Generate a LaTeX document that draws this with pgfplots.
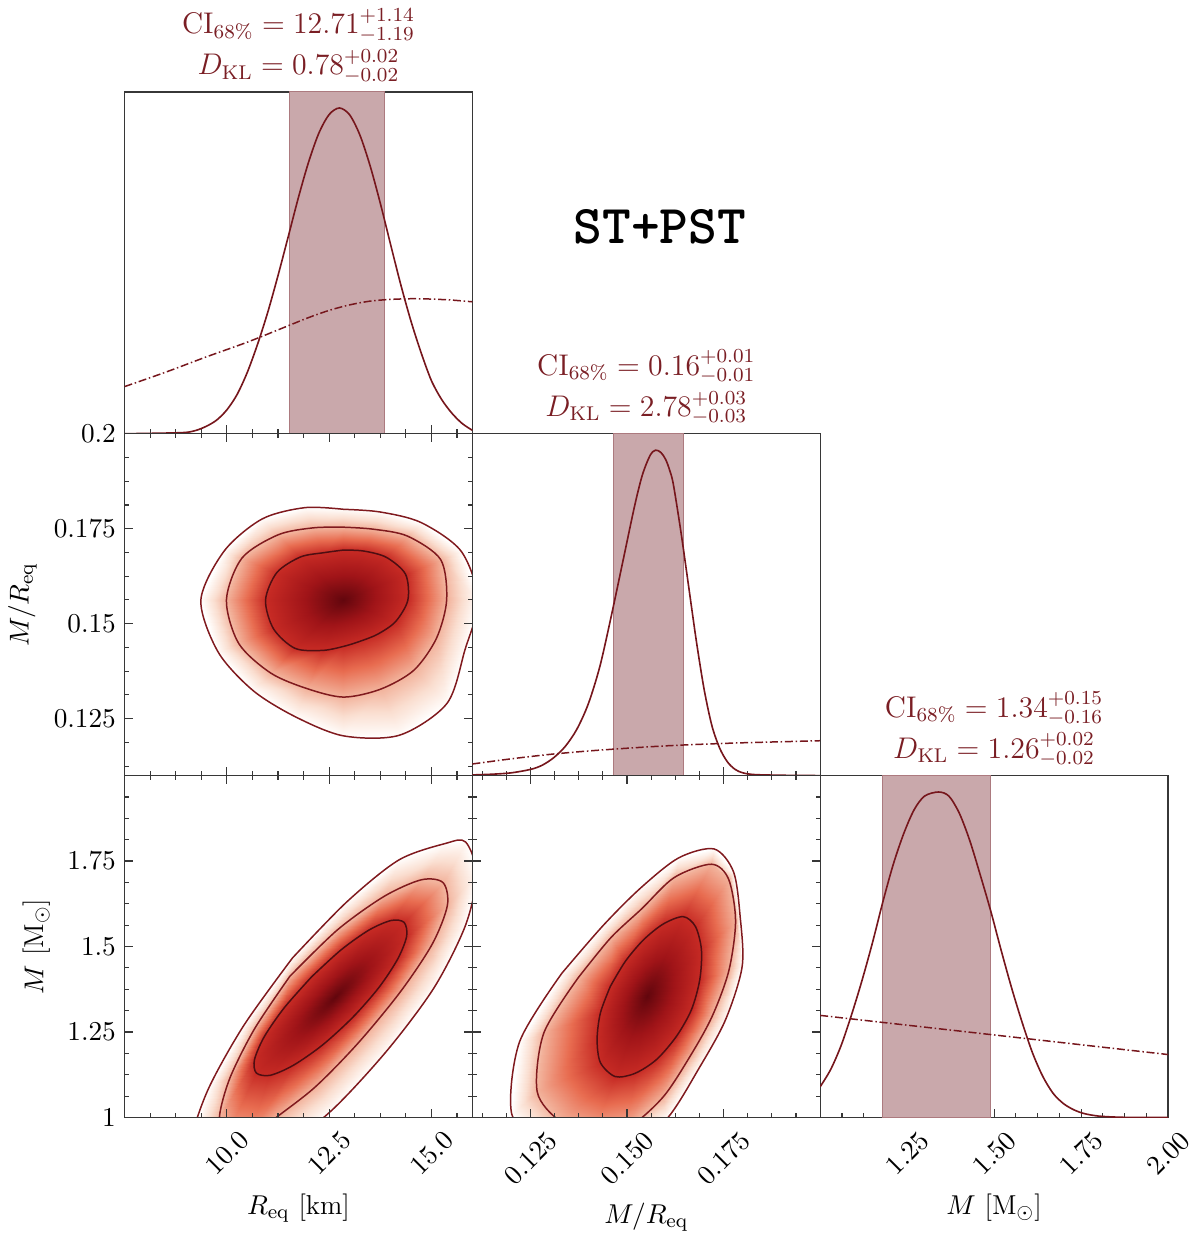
\documentclass[border=0pt]{standalone}
\usepackage{graphicx}
\usepackage{pgfplots}
\usepackage{pgfplotstable}
\pgfplotsset{compat=1.18}
\usepgfplotslibrary{groupplots}

\definecolor{dcol}{RGB}{118,22,28}
\definecolor{bandfill}{RGB}{201,168,171}
\definecolor{bandedge}{RGB}{172,122,127}
\definecolor{ctr}{RGB}{128,26,30}
\definecolor{ctrin}{RGB}{78,14,18}
\definecolor{titlecol}{RGB}{122,30,36}
\definecolor{axcol}{RGB}{55,55,55}

\pgfplotsset{colormap={dens}{rgb255=(255,252,250) rgb255=(250,222,208) rgb255=(242,178,155) rgb255=(232,108,80) rgb255=(198,42,36) rgb255=(160,20,24) rgb255=(98,6,13)}}

% contour rings: row 0 = peak, then inner / middle / outer ring (17 rows each, closed)
\pgfplotstableread{
x y v
12.850 0.15622 3
12.850 0.16938 2
12.372 0.16869 2
11.796 0.16755 2
11.221 0.16345 2
10.945 0.15622 2
11.140 0.14863 2
11.667 0.14349 2
12.340 0.14296 2
12.850 0.14401 2
13.264 0.14540 2
13.685 0.14723 2
14.123 0.15055 2
14.423 0.15622 2
14.366 0.16302 2
13.896 0.16747 2
13.345 0.16912 2
12.850 0.16938 2
12.850 0.17540 1
12.113 0.17523 1
11.253 0.17340 1
10.370 0.16729 1
9.989 0.15622 1
10.289 0.14479 1
11.067 0.13703 1
11.950 0.13293 1
12.850 0.13067 1
13.758 0.13276 1
14.569 0.13773 1
15.120 0.14610 1
15.371 0.15622 1
15.225 0.16686 1
14.415 0.17305 1
13.572 0.17488 1
12.850 0.17540 1
12.850 0.18011 0
11.910 0.18055 0
10.864 0.17758 0
9.940 0.16921 0
9.364 0.15622 0
9.786 0.14253 0
10.637 0.13241 0
11.667 0.12552 0
12.850 0.12046 0
14.220 0.12064 0
15.379 0.12901 0
15.817 0.14305 0
16.141 0.15622 0
15.728 0.16904 0
14.747 0.17662 0
13.742 0.17941 0
12.850 0.18011 0
}\tabRQ

\pgfplotstableread{
x y v
12.631 1.3515 3
12.072 1.4115 2
11.403 1.3209 2
10.914 1.2362 2
10.674 1.1686 2
10.720 1.1299 2
11.058 1.1232 2
11.625 1.1526 2
12.335 1.2117 2
13.079 1.2932 2
13.718 1.3806 2
14.178 1.4642 2
14.394 1.5306 2
14.329 1.5708 2
14.010 1.5760 2
13.468 1.5478 2
12.787 1.4898 2
12.072 1.4115 2
11.539 1.4129 1
10.683 1.2606 1
10.080 1.1171 1
9.820 1.0041 1
9.944 0.9394 1
10.460 0.9292 1
11.133 0.9933 1
12.150 1.0882 1
13.205 1.2172 1
14.246 1.3684 1
15.024 1.5082 1
15.389 1.6203 1
15.282 1.6870 1
14.750 1.6951 1
13.845 1.6468 1
12.707 1.5492 1
11.539 1.4129 1
11.603 1.4665 0
10.418 1.2700 0
9.560 1.0868 0
9.154 0.9435 0
9.273 0.8637 0
10.041 0.8395 0
11.192 0.8952 0
12.551 1.0195 0
13.913 1.1954 0
15.066 1.3800 0
15.829 1.5611 0
16.104 1.7102 0
15.834 1.8058 0
15.331 1.8011 0
14.198 1.7528 0
12.933 1.6308 0
11.603 1.4665 0
}\tabRM

\pgfplotstableread{
x y v
0.15513 1.3544 3
0.14570 1.38352 2
0.14313 1.30587 2
0.14227 1.22821 2
0.14313 1.16026 2
0.14698 1.11949 2
0.15213 1.12920 2
0.15770 1.16997 2
0.16284 1.23792 2
0.16670 1.31557 2
0.16884 1.40293 2
0.16927 1.49030 2
0.16773 1.55824 2
0.16456 1.58737 2
0.15941 1.56601 2
0.15427 1.51942 2
0.14956 1.45632 2
0.14570 1.38352 2
0.13739 1.40876 1
0.12847 1.24665 1
0.12676 1.07581 1
0.13259 0.98942 1
0.14099 0.95156 1
0.14998 0.96807 1
0.15924 1.05834 1
0.16653 1.18259 1
0.17210 1.29713 1
0.17638 1.43012 1
0.17810 1.57475 1
0.17630 1.69705 1
0.17184 1.74073 1
0.16224 1.70191 1
0.15384 1.61066 1
0.14578 1.52524 1
0.13739 1.40876 1
0.13319 1.42235 0
0.12221 1.22142 0
0.12016 1.01078 0
0.12813 0.92245 0
0.13970 0.90303 0
0.14956 0.91274 0
0.16018 0.99428 0
0.16884 1.14765 0
0.17553 1.28645 0
0.17981 1.44176 0
0.17930 1.58639 0
0.17758 1.71841 0
0.17253 1.78539 0
0.16336 1.75918 0
0.15350 1.67084 0
0.14381 1.56116 0
0.13319 1.42235 0
}\tabQM

\pgfplotsset{
  conn/.style={table/row sep=\\, patch table={
    0 1 2\\ 0 2 3\\ 0 3 4\\ 0 4 5\\ 0 5 6\\ 0 6 7\\ 0 7 8\\ 0 8 9\\
    0 9 10\\ 0 10 11\\ 0 11 12\\ 0 12 13\\ 0 13 14\\ 0 14 15\\ 0 15 16\\ 0 16 17\\
    1 2 18\\ 2 19 18\\ 2 3 19\\ 3 20 19\\ 3 4 20\\ 4 21 20\\ 4 5 21\\ 5 22 21\\
    5 6 22\\ 6 23 22\\ 6 7 23\\ 7 24 23\\ 7 8 24\\ 8 25 24\\ 8 9 25\\ 9 26 25\\
    9 10 26\\ 10 27 26\\ 10 11 27\\ 11 28 27\\ 11 12 28\\ 12 29 28\\ 12 13 29\\ 13 30 29\\
    13 14 30\\ 14 31 30\\ 14 15 31\\ 15 32 31\\ 15 16 32\\ 16 33 32\\ 16 17 33\\ 17 34 33\\
    18 19 35\\ 19 36 35\\ 19 20 36\\ 20 37 36\\ 20 21 37\\ 21 38 37\\ 21 22 38\\ 22 39 38\\
    22 23 39\\ 23 40 39\\ 23 24 40\\ 24 41 40\\ 24 25 41\\ 25 42 41\\ 25 26 42\\ 26 43 42\\
    26 27 43\\ 27 44 43\\ 27 28 44\\ 28 45 44\\ 28 29 45\\ 29 46 45\\ 29 30 46\\ 30 47 46\\
    30 31 47\\ 31 48 47\\ 31 32 48\\ 32 49 48\\ 32 33 49\\ 33 50 49\\ 33 34 50\\ 34 51 50\\
  }},
  filled/.style={patch, shader=interp, point meta=explicit, conn},
  cin/.style={ctrin, line width=0.6pt, smooth, skip coords between index={0}{1}, skip coords between index={18}{52}},
  cmid/.style={ctr, line width=0.6pt, smooth, skip coords between index={0}{18}, skip coords between index={35}{52}},
  cout/.style={ctr, line width=0.6pt, smooth, skip coords between index={0}{35}},
  base/.style={scale only axis, width=139.8pt, height=137.4pt,
    tick align=inside, major tick length=3.4pt, minor tick length=1.8pt,
    axis line style={axcol, line width=0.5pt},
    every tick/.style={axcol, line width=0.45pt},
    tick label style={font=\fontsize{11}{13}\selectfont},
    label style={font=\fontsize{11}{13}\selectfont},
    xticklabel shift=1.5pt,
    colormap name=dens, point meta min=0, point meta max=3},
  xR/.style={xmin=7.5, xmax=16, xtick={10,12.5,15},
    minor xtick={8.125,8.75,9.375,10.625,11.25,11.875,13.125,13.75,14.375,15.625}},
  xQ/.style={xmin=0.11, xmax=0.2, xtick={0.125,0.15,0.175},
    minor xtick={0.1125,0.11875,0.13125,0.1375,0.14375,0.15625,0.1625,0.16875,0.18125,0.1875,0.19375}},
  xM/.style={xmin=1, xmax=2, xtick={1.25,1.5,1.75,2},
    minor xtick={1.0625,1.125,1.1875,1.3125,1.375,1.4375,1.5625,1.625,1.6875,1.8125,1.875,1.9375}},
  yQ/.style={ymin=0.11, ymax=0.2, ytick={0.125,0.15,0.175,0.2},
    minor ytick={0.1125,0.11875,0.13125,0.1375,0.14375,0.15625,0.1625,0.16875,0.18125,0.1875,0.19375}},
  yM/.style={ymin=1, ymax=2, ytick={1,1.25,1.5,1.75},
    minor ytick={1.0625,1.125,1.1875,1.3125,1.375,1.4375,1.5625,1.625,1.6875,1.8125,1.875,1.9375}},
  diag/.style={ymin=0, ymax=1, ytick=\empty, xtick pos=left, xticklabels={},
    title style={align=center, text=titlecol, font=\fontsize{11.5}{16.5}\selectfont, yshift=-6pt}},
  band/.style={fill=bandfill, draw=bandedge, line width=0.4pt},
  post/.style={dcol, line width=0.65pt, smooth},
  prior/.style={dcol, line width=0.6pt, smooth, dash pattern=on 3.2pt off 1.1pt on 0.6pt off 1.1pt},
}

\begin{document}
\begin{tikzpicture}
\begin{groupplot}[group style={group size=3 by 3, horizontal sep=0pt, vertical sep=0pt}, base]

% ---- row 1: R_eq marginal
\nextgroupplot[xR, diag, clip mode=individual,
  title={$\mathrm{CI}_{68\%}=12.71^{+1.14}_{-1.19}$\\$D_{\mathrm{KL}}=0.78^{+0.02}_{-0.02}$}]
\addplot[band] coordinates {(11.52,0) (11.52,1) (13.85,1) (13.85,0) (11.52,0)};
\addplot[prior] table {
7.5 0.138
8.5 0.180
9.5 0.225
10.5 0.268
11.5 0.316
12.0 0.340
12.5 0.361
13.0 0.377
13.5 0.388
14.0 0.393
14.5 0.395
15.0 0.394
15.5 0.391
16.0 0.386
};
\addplot[post] table {
7.50 0.000
8.00 0.001
8.50 0.002
9.00 0.004
9.25 0.010
9.50 0.022
9.75 0.040
10.00 0.070
10.25 0.115
10.50 0.180
10.75 0.262
11.00 0.356
11.25 0.463
11.50 0.577
11.75 0.692
12.00 0.796
12.25 0.880
12.50 0.934
12.75 0.953
13.00 0.933
13.25 0.874
13.50 0.784
13.75 0.674
14.00 0.554
14.25 0.436
14.50 0.329
14.75 0.236
15.00 0.155
15.25 0.100
15.50 0.060
15.75 0.030
16.00 0.010
};
\node[font=\ttfamily\bfseries\fontsize{22}{24}\selectfont] at (rel axis cs:1.539,0.605) {ST+PST};
\nextgroupplot[group/empty plot]
\nextgroupplot[group/empty plot]

% ---- row 2
\nextgroupplot[xR, yQ, axis on top, xticklabels={},
  yticklabels={$0.125$,$0.15$,$0.175$,$0.2$}, ylabel={$M/R_{\mathrm{eq}}$}]
\addplot[filled] table[x=x, y=y, meta=v] {\tabRQ};
\addplot[cout] table[x=x, y=y] {\tabRQ};
\addplot[cmid] table[x=x, y=y] {\tabRQ};
\addplot[cin] table[x=x, y=y] {\tabRQ};

\nextgroupplot[xQ, diag,
  title={$\mathrm{CI}_{68\%}=0.16^{+0.01}_{-0.01}$\\$D_{\mathrm{KL}}=2.78^{+0.03}_{-0.03}$}]
\addplot[band] coordinates {(0.1464,0) (0.1464,1) (0.1647,1) (0.1647,0) (0.1464,0)};
\addplot[prior] table {
0.110 0.034
0.120 0.049
0.130 0.062
0.140 0.072
0.150 0.080
0.160 0.087
0.170 0.092
0.180 0.096
0.190 0.099
0.200 0.102
};
\addplot[post] table {
0.110 0.002
0.115 0.004
0.120 0.008
0.125 0.018
0.128 0.030
0.131 0.052
0.134 0.085
0.137 0.135
0.140 0.210
0.143 0.320
0.146 0.470
0.149 0.630
0.152 0.790
0.154 0.880
0.156 0.937
0.1574 0.952
0.1588 0.945
0.160 0.925
0.161 0.895
0.162 0.852
0.164 0.710
0.166 0.550
0.168 0.390
0.170 0.250
0.172 0.145
0.174 0.080
0.176 0.040
0.178 0.018
0.180 0.008
0.183 0.003
0.190 0.001
0.200 0.000
};
\nextgroupplot[group/empty plot]

% ---- row 3
\nextgroupplot[xR, yM, axis on top,
  xticklabels={\rotatebox{45}{$10.0$},\rotatebox{45}{$12.5$},\rotatebox{45}{$15.0$}},
  yticklabels={$1$,$1.25$,$1.5$,$1.75$},
  xlabel={$R_{\mathrm{eq}}$ [km]}, ylabel={$M$ [M$_\odot$]}]
\addplot[filled] table[x=x, y=y, meta=v] {\tabRM};
\addplot[cout] table[x=x, y=y] {\tabRM};
\addplot[cmid] table[x=x, y=y] {\tabRM};
\addplot[cin] table[x=x, y=y] {\tabRM};

\nextgroupplot[xQ, yM, axis on top,
  xticklabels={\rotatebox{45}{$0.125$},\rotatebox{45}{$0.150$},\rotatebox{45}{$0.175$}},
  yticklabels={}, xlabel={$M/R_{\mathrm{eq}}$}]
\addplot[filled] table[x=x, y=y, meta=v] {\tabQM};
\addplot[cout] table[x=x, y=y] {\tabQM};
\addplot[cmid] table[x=x, y=y] {\tabQM};
\addplot[cin] table[x=x, y=y] {\tabQM};

\nextgroupplot[xM, diag,
  xticklabels={\rotatebox{45}{$1.25$},\rotatebox{45}{$1.50$},\rotatebox{45}{$1.75$},\rotatebox{45}{$2.00$}},
  xlabel={$M$ [M$_\odot$]},
  title={$\mathrm{CI}_{68\%}=1.34^{+0.15}_{-0.16}$\\$D_{\mathrm{KL}}=1.26^{+0.02}_{-0.02}$}]
\addplot[band] coordinates {(1.179,0) (1.179,1) (1.489,1) (1.489,0) (1.179,0)};
\addplot[prior] table {
1.0 0.2985
1.25 0.2699
1.5 0.2413
1.75 0.2126
2.0 0.1840
};
\addplot[post] table {
1.00 0.090
1.03 0.140
1.06 0.210
1.09 0.300
1.12 0.400
1.15 0.510
1.18 0.630
1.21 0.740
1.24 0.830
1.27 0.900
1.30 0.940
1.34 0.952
1.37 0.940
1.40 0.890
1.43 0.810
1.46 0.710
1.49 0.605
1.52 0.490
1.55 0.380
1.58 0.280
1.61 0.190
1.64 0.120
1.67 0.070
1.70 0.040
1.73 0.022
1.76 0.011
1.80 0.004
1.85 0.001
1.90 0.000
2.00 0.000
};
\end{groupplot}
\end{tikzpicture}
\end{document}
